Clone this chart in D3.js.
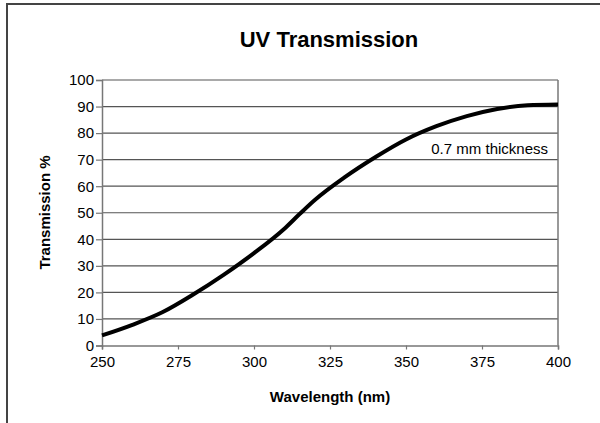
<!DOCTYPE html>
<html><head><meta charset="utf-8">
<script src="https://cdn.jsdelivr.net/npm/d3@7"></script>
<style>body{margin:0;background:#fff}svg{display:block;font-family:"Liberation Sans",Arial,sans-serif}</style>
</head><body><svg id="c" width="600" height="423"></svg>
<script>
const wavelengths = [250,260,270,280,290,300,310,315,320,330,340,350,360,370,380,390,400];
const transmission = [3.8,7.8,12.6,19.2,26.6,34.8,44,49.5,54.8,63.5,71,77.6,82.6,86.4,89.1,90.5,90.8];
const xTicks = [250,275,300,325,350,375,400];
const yTicks = [0,10,20,30,40,50,60,70,80,90,100];
const title = "UV Transmission";
const xLabel = "Wavelength (nm)";
const yLabel = "Transmission %";
const note = "0.7 mm thickness";

const svg = d3.select("#c");
const x = d3.scaleLinear().domain([250,400]).range([102,558]);
const y = d3.scaleLinear().domain([0,100]).range([345.5,80]);

// outer frame (top & left)
svg.append("path").attr("d","M7,430 L7,4 L600,4").attr("fill","none").attr("stroke","#444").attr("stroke-width",2);

// gridlines
svg.append("g").selectAll("line").data(yTicks.filter(d=>d>0)).join("line")
  .attr("x1",x(250)).attr("x2",x(400)).attr("y1",d=>y(d)).attr("y2",d=>y(d))
  .attr("stroke","#555").attr("stroke-width",1.2);
// right border
svg.append("line").attr("x1",x(400)).attr("x2",x(400)).attr("y1",y(100)).attr("y2",y(0)).attr("stroke","#777").attr("stroke-width",1.5);

const yAxis = svg.append("g").attr("transform",`translate(${x(250)},0)`)
  .call(d3.axisLeft(y).tickValues(yTicks).tickSize(6).tickPadding(2).tickFormat(d3.format("d")));
const xAxis = svg.append("g").attr("transform",`translate(0,${y(0)})`)
  .call(d3.axisBottom(x).tickValues(xTicks).tickSize(4).tickPadding(7).tickFormat(d3.format("d")));
[yAxis,xAxis].forEach(a=>{
  a.selectAll("path").attr("stroke","#777").attr("stroke-width",1.5);
  a.selectAll("line").attr("stroke","#777").attr("stroke-width",1.2);
  a.selectAll("text").attr("fill","#000").style("font-size","15px").style("font-family","Liberation Sans, Arial, sans-serif");
});

// curve
const line = d3.line().x((d,i)=>x(wavelengths[i])).y(d=>y(d)).curve(d3.curveMonotoneX);
svg.append("path").attr("d",line(transmission)).attr("fill","none").attr("stroke","#000").attr("stroke-width",4);

svg.append("text").attr("x",329).attr("y",47).attr("text-anchor","middle")
  .style("font-size","22px").style("font-weight","bold").text(title);
svg.append("text").attr("x",330).attr("y",402).attr("text-anchor","middle")
  .style("font-size","15px").style("font-weight","bold").text(xLabel);
svg.append("text").attr("transform",`translate(50,212.5) rotate(-90)`).attr("text-anchor","middle")
  .style("font-size","15px").style("font-weight","bold").text(yLabel);
svg.append("text").attr("x",548).attr("y",154).attr("text-anchor","end")
  .style("font-size","15px").text(note);
</script></body></html>
